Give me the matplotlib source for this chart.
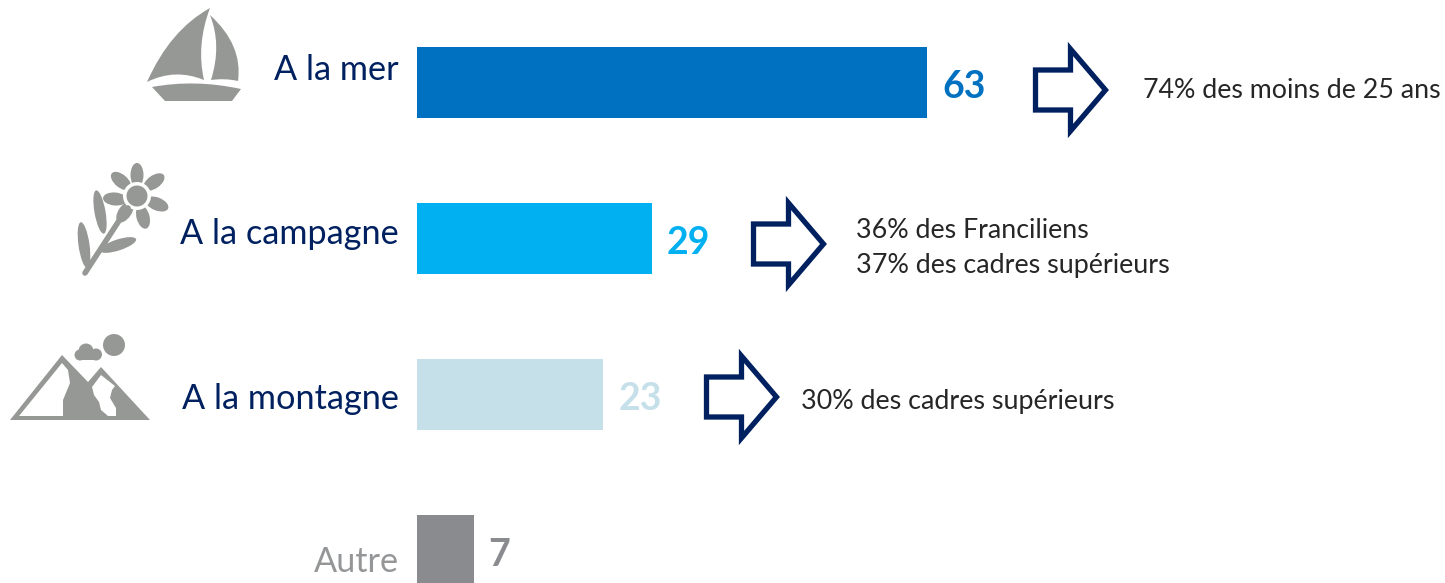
import matplotlib
matplotlib.use('Agg')
from matplotlib import pyplot as plt
from matplotlib.patches import Circle, Ellipse, PathPatch, Polygon, Rectangle
from matplotlib.path import Path

plt.rcParams['font.family'] = ['Lato', 'DejaVu Sans']

categories = ['A la mer', 'A la campagne', 'A la montagne', 'Autre']
values = [63, 29, 23, 7]
notes = [['74% des moins de 25 ans'],
         ['36% des Franciliens', '37% des cadres supérieurs'],
         ['30% des cadres supérieurs']]

W, H = 1445, 583
NAVY = '#002060'
GREY = '#969895'
bar_colors = ['#0071C1', '#00B0F0', '#C6E0EA', '#898B8E']
label_colors = [NAVY, NAVY, NAVY, '#949698']
bar_y = [82.5, 238.5, 394.5, 550.5]
label_y = [70, 234, 399, 562]

fig = plt.figure(figsize=(W / 100, H / 100), dpi=100)

# bars live in their own axes starting at the bar baseline
ax = fig.add_axes([417 / W, 0, (W - 417) / W, 1])
ax.set_xlim(0, (W - 417) / 8.095)
ax.set_ylim(H, 0)
ax.axis('off')
bars = ax.barh(bar_y, values, height=71, color=bar_colors)
for bar, val, col in zip(bars, values, bar_colors):
    ax.annotate(str(val), (val, bar.get_y() + 35.5), xytext=(15, -4), textcoords='offset pixels',
                color=col, fontsize=27, fontweight='bold', ha='left', va='center')

# overlay in pixel coordinates for labels, arrows, icons
px = fig.add_axes([0, 0, 1, 1])
px.set_xlim(0, W)
px.set_ylim(H, 0)
px.axis('off')
px.patch.set_alpha(0)

for name, y, col in zip(categories, label_y, label_colors):
    px.text(399, y, name, color=col, fontsize=24.7, ha='right', va='center')


def arrow(x, yc):
    pts = [(x, yc - 20), (x + 35, yc - 20), (x + 35, yc - 41), (x + 70, yc), (x + 35, yc + 41),
           (x + 35, yc + 20), (x, yc + 20)]
    px.add_patch(Polygon(pts, closed=True, fc='white', ec=NAVY, lw=3.8, joinstyle='miter'))


arrow(1035.5, 90)
arrow(753.5, 244)
arrow(706.5, 397)

px.text(1143, 91, notes[0][0], color='#262626', fontsize=19.3, va='center')
px.text(856, 231, notes[1][0], color='#262626', fontsize=19.3, va='center')
px.text(856, 266, notes[1][1], color='#262626', fontsize=19.4, va='center')
px.text(801, 402, notes[2][0], color='#262626', fontsize=19.4, va='center')


def shape(verts, codes, fc=GREY):
    px.add_patch(PathPatch(Path(verts, codes), fc=fc, ec='none'))


M, L, Q, Z = Path.MOVETO, Path.LINETO, Path.CURVE3, Path.CLOSEPOLY

# boat
shape([(210, 8), (170, 30), (147, 82), (175, 68), (204, 80), (196, 45), (210, 8), (210, 8)],
      [M, Q, Q, Q, Q, Q, Q, Z])
shape([(210, 15), (243, 45), (238, 81), (225, 78), (211, 80), (222, 45), (210, 15), (210, 15)],
      [M, Q, Q, Q, Q, Q, Q, Z])
shape([(152, 87), (195, 79), (241, 89), (232, 101), (165, 101), (152, 87)], [M, Q, Q, L, L, Z])

# flower
petals = [(137, 175, 0), (154, 182, 55), (157, 204, 112), (143, 217, 165), (125, 212, 215),
          (115, 199, 275), (121, 181, 310)]
for cx, cy, ang in petals:
    px.add_patch(Ellipse((cx, cy), 13, 24, angle=ang, fc=GREY, ec='none'))
px.add_patch(Circle((137, 196), 14, fc='white', ec='none'))
px.add_patch(Circle((137, 196), 10.5, fc=GREY, ec='none'))
px.plot([85, 124, 128], [273, 213, 208], color=GREY, lw=4, solid_capstyle='round')
px.add_patch(Ellipse((100, 212), 11, 44, angle=-10, fc=GREY, ec='none'))
px.add_patch(Ellipse((84, 245), 11, 46, angle=-8, fc=GREY, ec='none'))
px.add_patch(Ellipse((118, 245), 11, 38, angle=72, fc=GREY, ec='none'))

# mountains
shape([(10, 420), (62, 355), (88, 382), (101, 367), (150, 420), (10, 420)], [M, L, L, L, L, Z])
shape([(62, 363), (19, 416), (63, 416), (63, 400), (70, 383), (68, 370), (62, 363)],
      [M, L, L, L, L, L, Z], fc='white')
shape([(101, 375), (92, 387), (94, 395), (99, 402), (101, 410), (108, 416), (116, 416),
       (116, 408), (110, 398), (112, 390), (115, 386), (101, 375)],
      [M, L, L, L, L, L, L, L, L, L, L, Z], fc='white')
px.add_patch(Circle((114, 345), 11, fc=GREY, ec='none'))
px.add_patch(Circle((86, 351), 7.5, fc=GREY, ec='none'))
px.add_patch(Circle((80, 355), 5.5, fc=GREY, ec='none'))
px.add_patch(Circle((96, 354.5), 6, fc=GREY, ec='none'))
px.add_patch(Rectangle((78, 352), 20, 8, fc=GREY, ec='none'))

fig.savefig('out.png', dpi=100)
